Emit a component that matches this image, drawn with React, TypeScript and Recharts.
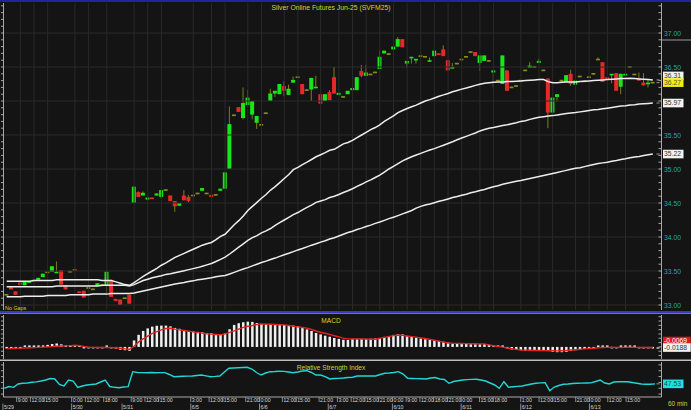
import React from 'react';
import { ComposedChart, Bar, Line, XAxis, YAxis, ReferenceLine } from 'recharts';

const FONT = "'Liberation Sans', Arial, sans-serif";
const BG = '#141414';
const GRID = '#2a2a2a';
const AXIS = '#a8a8a8';
const TEAL = '#1fa8a8';
const YELLOW = '#d4d42a';
const GREEN = '#19e619';
const RED = '#e62828';
const DOJI = '#8c8c1e';
const WICK = '#7d7d22';

// hourly OHLC, one entry per bar (143 bars, no gaps)
const opens = [
  33.15, 33.26, 33.20, 33.33, 33.29, 33.33, 33.36, 33.37, 33.41, 33.48,
  33.49, 33.47, 33.51, 33.29, 33.49, 33.53, 33.20, 33.21, 33.25, 33.23,
  33.28, 33.29, 33.29, 33.37, 33.09, 33.08, 33.10, 33.15, 34.50, 34.66,
  34.61, 34.55, 34.58, 34.61, 34.59, 34.69, 34.61, 34.53, 34.46, 34.61,
  34.59, 34.61, 34.64, 34.68, 34.64, 34.62, 34.62, 34.68, 34.71, 35.00,
  35.79, 35.91, 35.75, 35.94, 35.80, 35.68, 35.65, 35.82, 36.00, 36.11,
  36.10, 36.22, 36.09, 36.27, 36.35, 36.25, 36.16, 36.17, 36.19, 36.10,
  36.00, 36.13, 36.35, 36.09, 36.06, 36.10, 36.16, 36.16, 36.44, 36.37,
  36.39, 36.42, 36.47, 36.70, 36.69, 36.76, 36.80, 36.91, 36.55, 36.63,
  36.60, 36.66, 36.65, 36.58, 36.66, 36.70, 36.76, 36.60, 36.48, 36.55,
  36.61, 36.65, 36.72, 36.72, 36.56, 36.59, 36.59, 36.42, 36.30, 36.25,
  36.45, 36.20, 36.22, 36.30, 36.45, 36.49, 36.50, 36.56, 36.45, 36.33,
  35.83, 36.06, 36.30, 36.28, 36.40, 36.24, 36.36, 36.29, 36.35, 36.40,
  36.61, 36.57, 36.35, 36.38, 36.41, 36.21, 36.38, 36.50, 36.39, 36.33, 36.27, 36.25, 36.27,
];
const highs = [
  33.16, 33.27, 33.20, 33.34, 33.34, 33.35, 33.37, 33.40, 33.46, 33.49,
  33.57, 33.64, 33.51, 33.29, 33.50, 33.53, 33.20, 33.21, 33.26, 33.24,
  33.32, 33.30, 33.49, 33.37, 33.09, 33.08, 33.11, 33.15, 34.74, 34.67,
  34.67, 34.58, 34.58, 34.64, 34.69, 34.70, 34.61, 34.53, 34.50, 34.69,
  34.62, 34.62, 34.65, 34.72, 34.65, 34.62, 34.63, 34.71, 34.95, 35.92,
  35.80, 35.91, 36.20, 36.16, 36.00, 35.78, 35.66, 35.83, 36.18, 36.15,
  36.25, 36.29, 36.24, 36.36, 36.36, 36.25, 36.17, 36.34, 36.37, 36.10,
  36.10, 36.16, 36.50, 36.12, 36.07, 36.15, 36.19, 36.35, 36.53, 36.53,
  36.40, 36.43, 36.74, 36.74, 36.70, 36.80, 36.94, 36.91, 36.59, 36.65,
  36.62, 36.67, 36.66, 36.64, 36.74, 36.70, 36.82, 36.60, 36.56, 36.56,
  36.62, 36.66, 36.73, 36.72, 36.67, 36.67, 36.60, 36.45, 36.31, 36.67,
  36.45, 36.21, 36.23, 36.31, 36.46, 36.57, 36.51, 36.62, 36.46, 36.33,
  36.05, 36.10, 36.31, 36.38, 36.46, 36.30, 36.37, 36.30, 36.36, 36.41,
  36.64, 36.57, 36.35, 36.40, 36.41, 36.40, 36.40, 36.51, 36.40, 36.42, 36.41, 36.31, 36.28,
];
const lows = [
  33.14, 33.23, 33.15, 33.30, 33.29, 33.33, 33.35, 33.37, 33.41, 33.47,
  33.49, 33.47, 33.30, 33.23, 33.48, 33.50, 33.18, 33.11, 33.24, 33.22,
  33.28, 33.28, 33.17, 33.12, 33.06, 33.00, 33.09, 33.02, 34.50, 34.59,
  34.61, 34.55, 34.56, 34.61, 34.57, 34.68, 34.53, 34.37, 34.46, 34.54,
  34.51, 34.60, 34.63, 34.68, 34.63, 34.59, 34.61, 34.68, 34.71, 35.00,
  35.78, 35.84, 35.73, 35.94, 35.73, 35.59, 35.64, 35.81, 36.00, 36.06,
  36.10, 36.07, 36.09, 36.27, 36.34, 36.10, 36.15, 36.00, 36.19, 35.96,
  36.00, 36.01, 36.11, 36.09, 36.05, 36.10, 36.16, 36.16, 36.35, 36.37,
  36.38, 36.41, 36.47, 36.70, 36.68, 36.76, 36.80, 36.79, 36.49, 36.55,
  36.55, 36.65, 36.64, 36.58, 36.66, 36.69, 36.66, 36.45, 36.48, 36.54,
  36.60, 36.64, 36.71, 36.66, 36.44, 36.59, 36.58, 36.20, 36.29, 36.25,
  36.15, 36.19, 36.21, 36.29, 36.44, 36.49, 36.49, 36.56, 36.44, 35.60,
  35.83, 35.99, 36.29, 36.28, 36.22, 36.24, 36.35, 36.28, 36.34, 36.39,
  36.60, 36.28, 36.31, 36.26, 36.15, 36.10, 36.38, 36.49, 36.38, 36.30, 36.23, 36.20, 36.26,
];
const closes = [
  33.15, 33.23, 33.15, 33.30, 33.34, 33.35, 33.36, 33.40, 33.46, 33.48,
  33.57, 33.49, 33.30, 33.23, 33.49, 33.50, 33.18, 33.11, 33.25, 33.23,
  33.32, 33.29, 33.49, 33.12, 33.06, 33.00, 33.10, 33.02, 34.74, 34.59,
  34.65, 34.58, 34.56, 34.64, 34.69, 34.69, 34.53, 34.45, 34.50, 34.54,
  34.53, 34.61, 34.64, 34.72, 34.64, 34.59, 34.62, 34.71, 34.95, 35.66,
  35.79, 35.84, 35.97, 36.05, 36.00, 35.78, 35.65, 35.82, 36.11, 36.15,
  36.25, 36.15, 36.18, 36.31, 36.35, 36.10, 36.16, 36.34, 36.21, 35.96,
  36.10, 36.01, 36.11, 36.12, 36.06, 36.15, 36.19, 36.35, 36.37, 36.42,
  36.39, 36.42, 36.65, 36.74, 36.69, 36.80, 36.91, 36.79, 36.59, 36.65,
  36.62, 36.66, 36.65, 36.60, 36.74, 36.69, 36.66, 36.45, 36.50, 36.55,
  36.61, 36.65, 36.72, 36.66, 36.67, 36.67, 36.59, 36.45, 36.30, 36.67,
  36.15, 36.20, 36.22, 36.30, 36.45, 36.52, 36.50, 36.59, 36.45, 35.83,
  36.05, 36.10, 36.30, 36.38, 36.25, 36.30, 36.36, 36.29, 36.35, 36.40,
  36.61, 36.28, 36.31, 36.40, 36.15, 36.40, 36.40, 36.50, 36.39, 36.30, 36.23, 36.27, 36.27,
];

// moving averages (white lines)
const maFast = [
  33.35, 33.35, 33.35, 33.35, 33.35, 33.35, 33.36, 33.36, 33.36, 33.36,
  33.36, 33.37, 33.37, 33.37, 33.37, 33.37, 33.37, 33.37, 33.37, 33.37,
  33.37, 33.36, 33.36, 33.36, 33.34, 33.32, 33.30, 33.29,
  33.33, 33.375, 33.42, 33.46, 33.50, 33.54, 33.585, 33.62, 33.66, 33.70,
  33.73, 33.76, 33.79, 33.82, 33.85, 33.88, 33.90, 33.92, 33.96, 34.01,
  34.04, 34.11, 34.18, 34.24, 34.31, 34.39, 34.45, 34.51, 34.57, 34.625,
  34.69, 34.74, 34.80, 34.86, 34.92, 34.99, 35.025, 35.065, 35.10, 35.14,
  35.18, 35.21, 35.24, 35.275, 35.29, 35.33, 35.37, 35.39, 35.42, 35.46,
  35.50, 35.54, 35.58, 35.61, 35.65, 35.70, 35.74, 35.78, 35.83, 35.86,
  35.89, 35.915, 35.94, 35.97, 36.00, 36.02, 36.045, 36.07, 36.09, 36.11,
  36.135, 36.155, 36.175, 36.19, 36.21, 36.23, 36.245, 36.26, 36.27, 36.275,
  36.28, 36.28, 36.285, 36.285, 36.29, 36.295, 36.30, 36.305, 36.31, 36.315,
  36.315, 36.285, 36.27, 36.27, 36.275, 36.28, 36.28, 36.28, 36.285, 36.29,
  36.295, 36.30, 36.305, 36.31, 36.315, 36.32, 36.325, 36.33, 36.33, 36.335,
  36.33, 36.325, 36.32, 36.315, 36.31,
];
const maMid = [
  33.27, 33.27, 33.27, 33.27, 33.27, 33.27, 33.27, 33.27, 33.27, 33.27,
  33.27, 33.28, 33.28, 33.28, 33.28, 33.28, 33.28, 33.28, 33.28, 33.28,
  33.28, 33.29, 33.29, 33.29, 33.29, 33.29, 33.29, 33.28,
  33.30, 33.33, 33.36, 33.38, 33.40, 33.415, 33.43, 33.45, 33.46, 33.475,
  33.49, 33.505, 33.52, 33.535, 33.55, 33.57, 33.59, 33.61, 33.64, 33.67,
  33.705, 33.75, 33.80, 33.85, 33.90, 33.95, 33.99, 34.02, 34.06, 34.09,
  34.125, 34.17, 34.21, 34.25, 34.29, 34.33, 34.36, 34.40, 34.435, 34.47,
  34.51, 34.53, 34.55, 34.58, 34.60, 34.625, 34.655, 34.68, 34.71, 34.745,
  34.775, 34.81, 34.84, 34.875, 34.91, 34.955, 35.00, 35.04, 35.08, 35.12,
  35.15, 35.18, 35.205, 35.23, 35.255, 35.28, 35.30, 35.325, 35.35, 35.375,
  35.40, 35.43, 35.455, 35.48, 35.505, 35.53, 35.56, 35.58, 35.60, 35.61,
  35.625, 35.64, 35.65, 35.665, 35.68, 35.70, 35.71, 35.73, 35.745, 35.76,
  35.77, 35.78, 35.785, 35.795, 35.805, 35.815, 35.825, 35.83, 35.84, 35.85,
  35.86, 35.87, 35.875, 35.885, 35.895, 35.905, 35.915, 35.925, 35.93, 35.94,
  35.945, 35.955, 35.96, 35.965, 35.97,
];
const maSlow = [
  33.12, 33.12, 33.12, 33.12, 33.13, 33.13, 33.13, 33.13, 33.13, 33.14,
  33.14, 33.14, 33.14, 33.14, 33.15, 33.15, 33.15, 33.15, 33.15, 33.16,
  33.16, 33.16, 33.16, 33.17, 33.17, 33.17, 33.17, 33.17,
  33.175, 33.19, 33.205, 33.22, 33.235, 33.25, 33.265, 33.28, 33.295, 33.31,
  33.32, 33.33, 33.345, 33.355, 33.37, 33.38, 33.39, 33.40, 33.415, 33.425,
  33.435, 33.455, 33.48, 33.505, 33.53, 33.55, 33.575, 33.60, 33.625, 33.645,
  33.67, 33.69, 33.715, 33.74, 33.76, 33.785, 33.81, 33.83, 33.855, 33.88,
  33.90, 33.925, 33.945, 33.97, 33.99, 34.015, 34.04, 34.065, 34.085, 34.11,
  34.13, 34.155, 34.175, 34.20, 34.22, 34.245, 34.27, 34.29, 34.315, 34.34,
  34.365, 34.39, 34.425, 34.45, 34.47, 34.485, 34.505, 34.525, 34.54, 34.56,
  34.58, 34.595, 34.615, 34.63, 34.65, 34.665, 34.685, 34.70, 34.72, 34.74,
  34.755, 34.775, 34.79, 34.805, 34.82, 34.83, 34.845, 34.86, 34.875, 34.89,
  34.905, 34.92, 34.935, 34.95, 34.965, 34.98, 34.995, 35.01, 35.02, 35.035,
  35.05, 35.065, 35.08, 35.09, 35.10, 35.115, 35.125, 35.14, 35.15, 35.165,
  35.175, 35.185, 35.20, 35.21, 35.22,
];

// MACD histogram (white bars) and signal (red line)
const macdHist = [
  -0.005, -0.008, -0.012, -0.006, 0.0, 0.004, 0.008, 0.012, 0.018, 0.024,
  0.034, 0.04, 0.03, 0.018, 0.02, 0.018, 0.004, -0.01, -0.012, -0.014,
  -0.01, -0.008, 0.004, -0.006, -0.02, -0.032, -0.038, -0.045,
  0.075, 0.14, 0.185, 0.215, 0.235, 0.245, 0.247, 0.247, 0.238, 0.22,
  0.21, 0.197, 0.185, 0.18, 0.174, 0.17, 0.162, 0.159, 0.15, 0.147,
  0.156, 0.205, 0.255, 0.275, 0.286, 0.293, 0.29, 0.278, 0.267, 0.263,
  0.263, 0.262, 0.26, 0.255, 0.251, 0.247, 0.24, 0.22, 0.203, 0.185,
  0.162, 0.145, 0.13, 0.118, 0.104, 0.093, 0.083, 0.081, 0.089, 0.089,
  0.093, 0.093, 0.096, 0.098, 0.102, 0.116, 0.127, 0.139, 0.147, 0.145,
  0.125, 0.116, 0.107, 0.098, 0.089, 0.083, 0.078, 0.07, 0.06, 0.051,
  0.043, 0.038, 0.035, 0.035, 0.032, 0.031, 0.031, 0.031, 0.025, 0.02,
  0.012, 0.006, -0.015, -0.029, -0.035, -0.038, -0.042, -0.043, -0.04, -0.037,
  -0.035, -0.046, -0.058, -0.061, -0.061, -0.058, -0.046, -0.038, -0.031, -0.023,
  -0.014, -0.002, 0.012, 0.015, 0.006, -0.003, -0.006, 0.0, 0.006, 0.012,
  0.006, -0.003, -0.009, -0.014, -0.0188,
];
const macdSignal = [
  -0.02, -0.018, -0.016, -0.014, -0.012, -0.01, -0.008, -0.005, -0.002, 0.001,
  0.004, 0.007, 0.01, 0.012, 0.015, 0.02, 0.015, 0.005, -0.003, -0.005,
  -0.006, -0.007, -0.007, -0.008, -0.01, -0.015, -0.022, -0.028,
  0.007, 0.058, 0.093, 0.125, 0.156, 0.177, 0.197, 0.213, 0.217, 0.206,
  0.198, 0.191, 0.182, 0.174, 0.166, 0.16, 0.153, 0.148, 0.144, 0.14,
  0.151, 0.168, 0.185, 0.206, 0.226, 0.24, 0.249, 0.26, 0.267, 0.264,
  0.262, 0.26, 0.257, 0.255, 0.248, 0.24, 0.232, 0.225, 0.218, 0.202,
  0.185, 0.17, 0.159, 0.145, 0.13, 0.116, 0.102, 0.093, 0.093, 0.093,
  0.092, 0.09, 0.089, 0.089, 0.1, 0.11, 0.12, 0.131, 0.138, 0.134,
  0.127, 0.12, 0.114, 0.105, 0.097, 0.088, 0.078, 0.067, 0.056, 0.045,
  0.042, 0.041, 0.039, 0.038, 0.037, 0.036, 0.035, 0.035, 0.023, 0.014,
  0.006, -0.002, -0.012, -0.021, -0.029, -0.035, -0.037, -0.038, -0.041, -0.042,
  -0.043, -0.044, -0.045, -0.046, -0.044, -0.041, -0.036, -0.032, -0.028, -0.023,
  -0.019, -0.015, -0.01, -0.007, -0.005, -0.004, -0.005, -0.006, -0.005, -0.004,
  -0.005, -0.006, -0.006, -0.007, -0.0069,
];

// Relative Strength Index (cyan line)
const rsiLine = [
  40, 43, 41.6, 47.3, 48.5, 49, 50.2, 51, 52.4, 54.1,
  56.7, 55.9, 46.4, 43.9, 54.1, 52.4, 41.6, 43.9, 45.6, 46.4,
  47.3, 50.7, 54.1, 43, 41.6, 40.9, 42.1, 42.7,
  68.4, 67, 66.7, 66.5, 66.9, 66.6, 66.8, 66.7, 63.6, 59.8,
  60.1, 60.5, 60.7, 61, 61.9, 62.7, 61.3, 59.8, 60.3, 61,
  67.9, 74.2, 74.7, 75.2, 75.6, 75.9, 73, 67, 62.7, 66.1,
  68.4, 68.7, 69.2, 69, 67.9, 66.7, 67.9, 69.6, 70.1, 67,
  62.7, 62.7, 60.1, 55.9, 56.7, 57, 57.6, 58.4, 58.8, 61,
  61, 61, 61, 61, 63.6, 65.6, 66.1, 67, 68.4, 64.4,
  57, 56.7, 56.5, 56.2, 55.9, 57.6, 58.4, 55.9, 55, 48.5,
  51.6, 52.8, 54.1, 54.8, 55.2, 55.3, 54.1, 52.4, 49, 45.6,
  39.9, 51.2, 41.6, 42.5, 43.3, 43.9, 45.6, 47.3, 48.5, 49.3,
  49.5, 35.8, 42.1, 44.7, 46.8, 47.3, 48.1, 48.5, 48.7, 49,
  49.3, 51.6, 54.1, 49, 47.3, 50.7, 51.2, 51.2, 51.2, 49.8,
  48.5, 47.3, 46.8, 46.8, 47.53,
];

// time axis labels (bar index where each label sits)
const timeTickBars = [3, 6, 9, 15, 18, 22, 28, 31, 34, 41, 45, 48, 53, 56, 61, 64, 69, 73, 76, 79, 82, 85, 88, 91, 94, 97, 100, 104, 107, 113, 117, 120, 125, 128, 132, 136];
const timeTickText = ['9:00', '12:00', '15:00', '0:00', '12:00', '18:00', '9:00', '12:00', '15:00', '3:00', '12:00', '15:00', '21:00', '0:00', '12:00', '15:00', '21:00', '3:00', '12:00', '15:00', '21:00', '0:00', '9:00', '12:00', '18:00', '21:00', '0:00', '15:00', '18:00', '1:00', '12:00', '15:00', '21:00', '0:00', '12:00', '15:00'];
const dateTickBars = [0, 15, 26, 41, 56, 71, 85, 100, 113, 128];
const dateTickText = ['5/29', '5/30', '5/31', '6/5', '6/6', '6/7', '6/10', '6/11', '6/12', '6/13'];

const priceGrid = [33, 33.5, 34, 34.5, 35, 35.5, 36, 36.5, 37];
const priceTicks = Array.from({ length: 45 }, (_, k) => +(33 + k * 0.1).toFixed(1));
const macdTicks = Array.from({ length: 10 }, (_, k) => +(-0.1 + k * 0.05).toFixed(2));
const rsiTicks = [30, 40, 50, 60, 70, 80];

const data = opens.map((o, i) => ({
  i,
  open: o,
  high: highs[i],
  low: lows[i],
  close: closes[i],
  range: [lows[i], highs[i]],
  ma1: maFast[i],
  ma2: maMid[i],
  ma3: maSlow[i],
  macd: macdHist[i],
  signal: macdSignal[i],
  rsi: rsiLine[i],
}));

const last = data.length - 1;
const tagValues = [maFast[last], maMid[last], maSlow[last], closes[last]];
const timeAt: Record<number, string> = {};
timeTickBars.forEach((b, k) => (timeAt[b] = timeTickText[k]));
const dateAt: Record<number, string> = {};
dateTickBars.forEach((b, k) => (dateAt[b] = dateTickText[k]));
const axisTicks = Array.from(new Set([...timeTickBars, ...dateTickBars])).sort((a, b) => a - b);

const W = 691;
const MARGIN = { top: 0, right: 0, bottom: 0, left: 0 };
const X_PAD = { left: 0.9, right: 6.4 };

function Candle(props: any) {
  const { x, y, width, height, payload } = props;
  if (x == null || !payload) return null;
  const { open, close, high, low } = payload;
  const span = high - low;
  const k = span > 0 ? Math.abs(height) / span : 0;
  const top = Math.min(y, y + height);
  const py = (v: number) => top + (high - v) * k;
  const cx = x + width / 2;
  const up = close > open;
  const down = close < open;
  const fill = up ? GREEN : down ? RED : DOJI;
  const bTop = py(Math.max(open, close));
  const bH = Math.max(1.6, Math.abs(open - close) * k);
  return (
    <g>
      {span > 0 && <line x1={cx} x2={cx} y1={py(high)} y2={py(low)} stroke={WICK} strokeWidth={1} />}
      <rect x={x} y={up || down ? bTop : bTop - 0.8} width={width} height={bH} fill={fill} />
    </g>
  );
}

function PriceTick(props: any) {
  const { x, y, payload } = props;
  const v = payload.value;
  const major = Math.abs(v * 2 - Math.round(v * 2)) < 1e-6;
  // the value tags on the axis cover any label right under them
  const covered = tagValues.some((t) => Math.abs(t - v) < 0.1);
  return (
    <g>
      <line x1={x - 3} x2={x} y1={y} y2={y} stroke={AXIS} strokeWidth={1} />
      {major && !covered && (
        <text x={x + 2.5} y={y + 2.5} fill={TEAL} fontSize={6.8} fontFamily={FONT}>
          {v.toFixed(2)}
        </text>
      )}
    </g>
  );
}

function PlainTick(props: any) {
  const { x, y } = props;
  return <line x1={x - 3} x2={x} y1={y} y2={y} stroke={AXIS} strokeWidth={1} />;
}

function LeftTick(props: any) {
  const { x, y } = props;
  return <line x1={x - 2.5} x2={x} y1={y} y2={y} stroke={AXIS} strokeWidth={1} />;
}

function TimeTick(props: any) {
  const { x, y, payload } = props;
  const t = timeAt[payload.value];
  const d = dateAt[payload.value];
  return (
    <g fontFamily={FONT} fontSize={5.2} fill="#d8d8d8">
      {t && <line x1={x - 1.5} x2={x - 1.5} y1={y} y2={y + 5} stroke={AXIS} strokeWidth={0.8} />}
      {t && <text x={x - 0.5} y={y + 5}>{t}</text>}
      {d && <line x1={x - 1.5} x2={x - 1.5} y1={y + 6.5} y2={y + 13} stroke={AXIS} strokeWidth={0.8} />}
      {d && <text x={x - 0.5} y={y + 12}>{d}</text>}
    </g>
  );
}

function tag(text: string, bg: string, fg: string, dy = 0) {
  return (props: any) => {
    const vb = props.viewBox;
    if (!vb) return null;
    const xr = vb.x + vb.width;
    const yc = vb.y + dy;
    const w = text.length * 3.6 + 2.5;
    return (
      <g>
        <line x1={xr - 5} x2={xr - 2} y1={vb.y} y2={vb.y} stroke="#9a9a9a" strokeWidth={1} />
        <rect x={xr + 1.5} y={yc - 4.3} width={w} height={8.6} fill={bg} />
        <text x={xr + 2.6} y={yc + 2.4} fill={fg} fontSize={6.8} fontFamily={FONT}>
          {text}
        </text>
      </g>
    );
  };
}

function MainPanel() {
  return (
    <ComposedChart width={W} height={311} data={data} margin={{ ...MARGIN, top: 3, bottom: 1 }}>
      <XAxis dataKey="i" type="category" hide padding={X_PAD} />
      <YAxis yAxisId="l" orientation="left" width={3.5} domain={[32.9265, 37.4412]} allowDataOverflow ticks={priceTicks} interval={0} tickSize={0} tickMargin={0} tick={<LeftTick />} axisLine={{ stroke: AXIS }} />
      <YAxis yAxisId="p" orientation="right" width={29.5} domain={[32.9265, 37.4412]} allowDataOverflow ticks={priceTicks} interval={0} tickSize={0} tickMargin={0} tick={<PriceTick />} axisLine={{ stroke: AXIS }} />
      {priceGrid.map((v) => (
        <ReferenceLine key={'h' + v} yAxisId="p" y={v} stroke={GRID} strokeWidth={1} />
      ))}
      {timeTickBars.map((b) => (
        <ReferenceLine key={'v' + b} yAxisId="p" x={b} stroke={GRID} strokeWidth={1} />
      ))}
      <Bar yAxisId="p" dataKey="range" barSize={4} shape={<Candle />} isAnimationActive={false} />
      <Line yAxisId="p" dataKey="ma3" stroke="#ededed" strokeWidth={1.5} dot={false} isAnimationActive={false} />
      <Line yAxisId="p" dataKey="ma2" stroke="#ededed" strokeWidth={1.5} dot={false} isAnimationActive={false} />
      <Line yAxisId="p" dataKey="ma1" stroke="#ededed" strokeWidth={1.5} dot={false} isAnimationActive={false} />
      <ReferenceLine yAxisId="p" y={maSlow[last]} stroke="none" label={tag(maSlow[last].toFixed(2), '#f2f2f2', '#333')} />
      <ReferenceLine yAxisId="p" y={maMid[last]} stroke="none" label={tag(maMid[last].toFixed(2), '#f2f2f2', '#333')} />
      <ReferenceLine yAxisId="p" y={maFast[last]} stroke="none" label={tag(maFast[last].toFixed(2), '#f2f2f2', '#333', -4)} />
      <ReferenceLine yAxisId="p" y={closes[last]} stroke="none" label={tag(closes[last].toFixed(2), '#f0f000', '#555')} />
    </ComposedChart>
  );
}

function MacdPanel() {
  return (
    <ComposedChart width={W} height={47} data={data} margin={{ ...MARGIN, top: 2, bottom: 1 }}>
      <XAxis dataKey="i" type="category" hide padding={X_PAD} />
      <YAxis yAxisId="l" orientation="left" width={3.5} domain={[-0.14, 0.37]} allowDataOverflow ticks={macdTicks} interval={0} tickSize={0} tickMargin={0} tick={<LeftTick />} axisLine={{ stroke: AXIS }} />
      <YAxis yAxisId="m" orientation="right" width={29.5} domain={[-0.14, 0.37]} allowDataOverflow ticks={macdTicks} interval={0} tickSize={0} tickMargin={0} tick={<PlainTick />} axisLine={{ stroke: AXIS }} />
      <Bar yAxisId="m" dataKey="macd" barSize={2.5} fill="#f0f0f0" minPointSize={1.5} isAnimationActive={false} />
      <Line yAxisId="m" dataKey="signal" stroke="#e42222" strokeWidth={1.4} dot={false} isAnimationActive={false} />
      <ReferenceLine yAxisId="m" y={macdSignal[last]} stroke="none" label={tag(macdSignal[last].toFixed(4), '#e01818', '#ffffff', -6.5)} />
      <ReferenceLine yAxisId="m" y={macdHist[last]} stroke="none" label={tag(macdHist[last].toFixed(4), '#f2f2f2', '#333', -1)} />
    </ComposedChart>
  );
}

function RsiPanel() {
  return (
    <ComposedChart width={W} height={49} data={data} margin={{ ...MARGIN, top: 1, bottom: 0 }}>
      <XAxis dataKey="i" type="category" padding={X_PAD} height={13} ticks={axisTicks} interval={0} tickSize={0} tickMargin={0} tick={<TimeTick />} axisLine={{ stroke: AXIS }} />
      <YAxis yAxisId="l" orientation="left" width={3.5} domain={[25, 85]} allowDataOverflow ticks={rsiTicks} interval={0} tickSize={0} tickMargin={0} tick={<LeftTick />} axisLine={{ stroke: AXIS }} />
      <YAxis yAxisId="r" orientation="right" width={29.5} domain={[25, 85]} allowDataOverflow ticks={rsiTicks} interval={0} tickSize={0} tickMargin={0} tick={<PlainTick />} axisLine={{ stroke: AXIS }} />
      <Line yAxisId="r" dataKey="rsi" stroke="#22d6d6" strokeWidth={1.4} dot={false} isAnimationActive={false} />
      <ReferenceLine yAxisId="r" y={rsiLine[last]} stroke="none" label={tag(rsiLine[last].toFixed(2), '#22e0e0', '#1a4a4a')} />
    </ComposedChart>
  );
}

export default function App() {
  return (
    <div style={{ position: 'fixed', left: 0, top: 0, width: W, height: 410, background: BG, overflow: 'hidden' }}>
      <div style={{ position: 'absolute', left: 0, top: 0 }}>
        <MainPanel />
      </div>
      <div style={{ position: 'absolute', left: 0, top: 313 }}>
        <MacdPanel />
      </div>
      <div style={{ position: 'absolute', left: 0, top: 361 }}>
        <RsiPanel />
      </div>
      <svg width={W} height={410} style={{ position: 'absolute', left: 0, top: 0, pointerEvents: 'none' }}>
        <rect x={0} y={0} width={W} height={2} fill="#23239a" />
        <rect x={0} y={311} width={W} height={2} fill="#3838c0" />
        <rect x={0} y={313} width={W} height={0.8} fill="#8a8ad0" />
        <rect x={0} y={359.5} width={W} height={1.5} fill="#bdbdbd" />
        <line x1={662} x2={W} y1={40} y2={40} stroke="#9a9a9a" strokeWidth={1} />
        <g fontFamily={FONT} fill={YELLOW} textAnchor="middle">
          <text x={331} y={9.5} fontSize={6.8}>Silver Online Futures Jun-25 (SVFM25)</text>
          <text x={331} y={322.5} fontSize={6.6}>MACD</text>
          <text x={331} y={369.5} fontSize={6.6}>Relative Strength Index</text>
        </g>
        <text x={5} y={309.5} fontFamily={FONT} fontSize={5.4} fill={YELLOW}>No Gaps</text>
        <text x={668} y={405.5} fontFamily={FONT} fontSize={6.4} fill={YELLOW}>60 min</text>
      </svg>
    </div>
  );
}
